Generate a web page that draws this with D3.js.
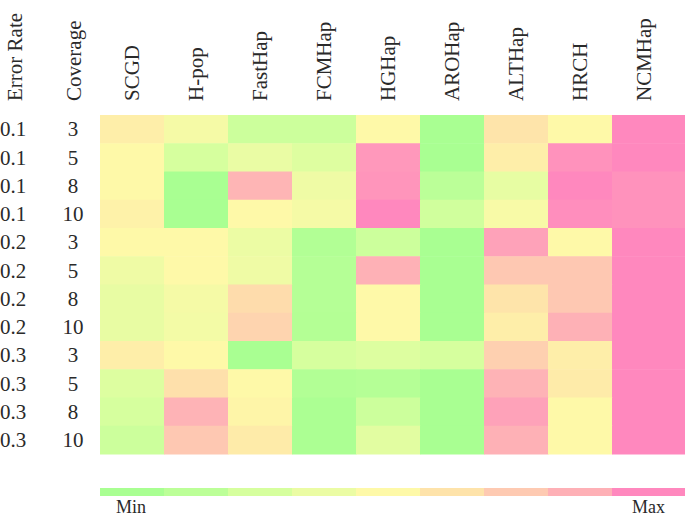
<!DOCTYPE html>
<html>
<head>
<meta charset="utf-8">
<script src="https://cdn.jsdelivr.net/npm/d3@7"></script>
<style>
  body { margin: 0; background: #fff; }
  text { font-family: "Liberation Serif", "Times New Roman", serif; fill: #2a2a2a; }
</style>
</head>
<body>
<svg id="chart" width="685" height="519"></svg>
<script>
// column headers
let methods = ["SCGD", "H-pop", "FastHap", "FCMHap", "HGHap", "AROHap", "ALTHap", "HRCH", "NCMHap"];
// row labels
let errorRates = ["0.1", "0.1", "0.1", "0.1", "0.2", "0.2", "0.2", "0.2", "0.3", "0.3", "0.3", "0.3"];
let coverages = ["3", "5", "8", "10", "3", "5", "8", "10", "3", "5", "8", "10"];

// relative score per cell, 0 = min (green) .. 1 = max (pink), one array per row
let row01_3 = [0.56, 0.44, 0.20, 0.20, 0.50, 0.00, 0.62, 0.50, 1.00];
let row01_5 = [0.50, 0.25, 0.37, 0.30, 0.95, 0.00, 0.56, 0.97, 1.00];
let row01_8 = [0.50, 0.00, 0.85, 0.40, 0.96, 0.12, 0.35, 1.00, 0.97];
let row01_10 = [0.54, 0.00, 0.50, 0.44, 1.00, 0.22, 0.46, 0.98, 0.97];
let row02_3 = [0.50, 0.50, 0.38, 0.06, 0.20, 0.00, 0.92, 0.50, 1.00];
let row02_5 = [0.40, 0.50, 0.40, 0.08, 0.87, 0.00, 0.76, 0.76, 1.00];
let row02_8 = [0.36, 0.44, 0.66, 0.08, 0.50, 0.00, 0.62, 0.76, 1.00];
let row02_10 = [0.36, 0.43, 0.70, 0.07, 0.50, 0.00, 0.56, 0.87, 1.00];
let row03_3 = [0.56, 0.50, 0.00, 0.25, 0.29, 0.25, 0.72, 0.56, 1.00];
let row03_5 = [0.29, 0.64, 0.50, 0.06, 0.08, 0.00, 0.86, 0.58, 1.00];
let row03_8 = [0.25, 0.86, 0.52, 0.02, 0.20, 0.00, 0.92, 0.50, 1.00];
let row03_10 = [0.20, 0.76, 0.58, 0.02, 0.32, 0.00, 0.87, 0.50, 1.00];
let rows = [row01_3, row01_5, row01_8, row01_10, row02_3, row02_5,
            row02_8, row02_10, row03_3, row03_5, row03_8, row03_10];

// palette stops, min -> max
let palette = ["#a9ff92", "#bcff98", "#d6ff9e", "#ebfca4", "#fef9a8",
               "#fee3aa", "#fecab2", "#feb0b6", "#ff88be"];
let legendLevels = [0, 0.125, 0.25, 0.375, 0.5, 0.625, 0.75, 0.875, 1];

const width = 685;
const svg = d3.select("#chart");

const x = d3.scaleBand().domain(methods).range([100, 676]);
const y = d3.scaleBand().domain(d3.range(rows.length)).range([115, 454]);
const color = d3.scaleLinear()
  .domain(legendLevels)
  .range(palette)
  .interpolate(d3.interpolateRgb);

// last column runs off the right edge
function cellWidth(m) {
  return m === methods[methods.length - 1] ? width - x(m) : x.bandwidth();
}

// cells
rows.forEach(function(vals, r) {
  svg.append("g")
    .selectAll("rect")
    .data(vals)
    .join("rect")
    .attr("x", (d, i) => x(methods[i]))
    .attr("y", y(r))
    .attr("width", (d, i) => cellWidth(methods[i]) + 0.5)
    .attr("height", y.bandwidth() + 0.5)
    .attr("fill", d => color(d));
});

// column headers
const headerSize = "21px";
svg.append("text")
  .attr("transform", "translate(15,101) rotate(-90)")
  .attr("dy", "0.35em")
  .style("font-size", headerSize)
  .text("Error Rate");
svg.append("text")
  .attr("transform", "translate(74,101) rotate(-90)")
  .attr("dy", "0.35em")
  .style("font-size", headerSize)
  .text("Coverage");

svg.append("g")
  .selectAll("text")
  .data(methods)
  .join("text")
  .attr("transform", d => "translate(" + (x(d) + 32) + ",101) rotate(-90)")
  .attr("dy", "0.35em")
  .style("font-size", headerSize)
  .text(d => d);

// row labels
svg.append("g")
  .selectAll("text")
  .data(errorRates)
  .join("text")
  .attr("x", 0)
  .attr("y", (d, i) => y(i) + y.bandwidth() / 2)
  .attr("dy", "0.35em")
  .style("font-size", "21px")
  .text(d => d);

svg.append("g")
  .selectAll("text")
  .data(coverages)
  .join("text")
  .attr("x", 73)
  .attr("y", (d, i) => y(i) + y.bandwidth() / 2)
  .attr("dy", "0.35em")
  .attr("text-anchor", "middle")
  .style("font-size", "21px")
  .text(d => d);

// legend strip
svg.append("g")
  .selectAll("rect")
  .data(legendLevels)
  .join("rect")
  .attr("x", (d, i) => x(methods[i]))
  .attr("y", 488)
  .attr("width", (d, i) => cellWidth(methods[i]) + 0.5)
  .attr("height", 8)
  .attr("fill", d => color(d));

svg.append("text")
  .attr("x", 116)
  .attr("y", 513)
  .style("font-size", "18px")
  .text("Min");
svg.append("text")
  .attr("x", 665)
  .attr("y", 513)
  .attr("text-anchor", "end")
  .style("font-size", "18px")
  .text("Max");
</script>
</body>
</html>
